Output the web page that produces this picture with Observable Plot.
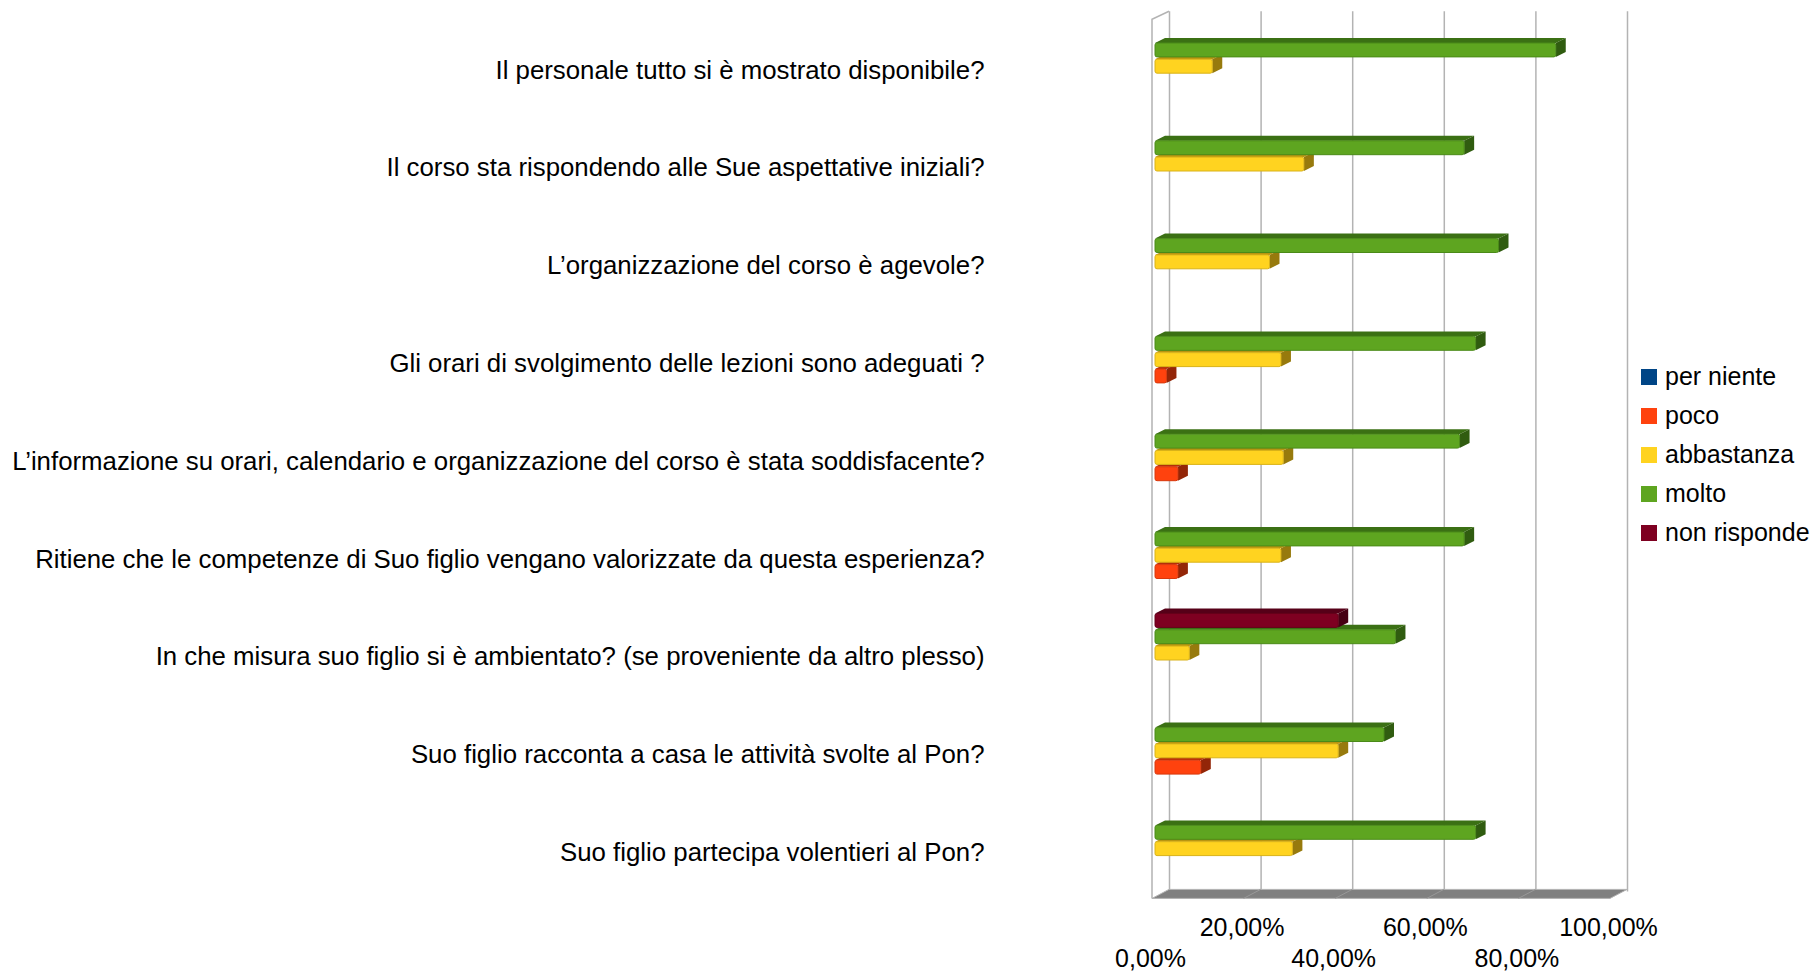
<!DOCTYPE html>
<html><head><meta charset="utf-8">
<script src="https://cdn.jsdelivr.net/npm/d3@7"></script>
<script src="https://cdn.jsdelivr.net/npm/@observablehq/plot@0.6"></script>
<style>
body{margin:0;background:#fff;font-family:"Liberation Sans",Arial,sans-serif;}
#wrap{position:relative;width:1814px;height:979px;overflow:hidden;}
#legend{position:absolute;left:1641px;top:357px;}
.item{display:flex;align-items:center;height:39px;font-size:25px;color:#000;white-space:nowrap;}
.sw{width:16px;height:16px;margin-right:8px;flex:none;}
</style></head><body>
<div id="wrap"><div id="chart"></div><div id="legend"></div></div>
<script>
// ---- data ----
const questions = [
  "Il personale tutto si è mostrato disponibile?",
  "Il corso sta rispondendo alle Sue aspettative iniziali?",
  "L\u2019organizzazione del corso è agevole?",
  "Gli orari di svolgimento delle lezioni sono adeguati ?",
  "L\u2019informazione su orari, calendario e organizzazione del corso è stata soddisfacente?",
  "Ritiene che le competenze di Suo figlio vengano valorizzate da questa esperienza?",
  "In che misura suo figlio si è ambientato? (se proveniente da altro plesso)",
  "Suo figlio racconta a casa le attività svolte al Pon?",
  "Suo figlio partecipa volentieri al Pon?"
];
const series = ["per niente", "poco", "abbastanza", "molto", "non risponde"];
const perNiente   = [0, 0, 0, 0, 0, 0, 0, 0, 0];
const poco        = [0, 0, 0, 2.5, 5, 5, 0, 10, 0];
const abbastanza  = [12.5, 32.5, 25, 27.5, 28, 27.5, 7.5, 40, 30];
const molto       = [87.5, 67.5, 75, 70, 66.5, 67.5, 52.5, 50, 70];
const nonRisponde = [0, 0, 0, 0, 0, 0, 40, 0, 0];
const ticks = [0, 20, 40, 60, 80, 100];
const tickLabels = ["0,00%", "20,00%", "40,00%", "60,00%", "80,00%", "100,00%"];

// ---- styles ----
const colors = ["#004586", "#ff420e", "#ffd320", "#5ea520", "#7e0021"];
const capColors = ["#002f5c", "#b32e0a", "#b89510", "#3b7014", "#560018"];
const sideColors = ["#00264a", "#9a2707", "#a3840c", "#2f5c0f", "#470014"];
const edgeColors = ["#003a70", "#d8380c", "#d9b218", "#4a8a18", "#650019"];

const values = [perNiente, poco, abbastanza, molto, nonRisponde];
const rows = [];
questions.forEach((q, i) => series.forEach((s, j) => {
  if (values[j][i] > 0) rows.push({q, s, key: q + "|" + s, v: values[j][i], color: colors[j], cap: capColors[j], side: sideColors[j], edge: edgeColors[j]});
}));
const slotOrder = ["gap", "non risponde", "molto", "abbastanza", "poco", "per niente"];
const domain = [];
questions.forEach(q => slotOrder.forEach(s => domain.push(q + "|" + s)));

const DX = 10, DY = 5;

function decor(index, scales, vals, dims) {
  const x = scales.x;
  const x0 = x(0), x1 = x(100);
  const top = dims.marginTop, bottom = dims.height - dims.marginBottom;
  const ox = 17, oy = 9;
  const backTop = top + 2, backBottom = bottom;
  const frontTop = backTop + 8, frontBottom = backBottom + oy;
  const g = d3.create("svg:g");
  g.append("path").attr("fill", "none").attr("stroke", "#b3b3b3").attr("stroke-width", 1.5)
    .attr("d", `M${x0},${frontBottom}L${x0},${frontTop}L${x0 + ox},${backTop}`);
  g.append("path").attr("fill", "#808080").attr("stroke", "#b3b3b3").attr("stroke-width", 1)
    .attr("d", `M${x0},${frontBottom}L${x1},${frontBottom}L${x1 + ox},${backBottom}L${x0 + ox},${backBottom}Z`);
  for (const t of ticks.slice(1, -1)) {
    g.append("line").attr("x1", x(t)).attr("y1", frontBottom).attr("x2", x(t) + ox).attr("y2", backBottom)
      .attr("stroke", "#999").attr("stroke-width", 1);
  }
  return g.node();
}

// draws the top and right faces of each bar as parallelograms
function boxFaces(index, scales, vals, dims, context, next) {
  const g = next(index, scales, vals, dims, context);
  const sel = d3.select(g);
  sel.selectAll("rect").each(function(i) {
    const r = d3.select(this);
    const x = +r.attr("x"), y = +r.attr("y"), w = +r.attr("width"), h = +r.attr("height");
    const d = rows[index[0] !== undefined ? 0 : 0];
    const fillTop = r.attr("fill");
    const row = this.__row;
    const parent = this.parentNode;
    const top = document.createElementNS("http://www.w3.org/2000/svg", "path");
    top.setAttribute("d", `M${x},${y}L${x + DX},${y - DY}L${x + w + DX},${y - DY}L${x + w},${y}Z`);
    top.setAttribute("fill", fillTop);
    const side = document.createElementNS("http://www.w3.org/2000/svg", "path");
    side.setAttribute("d", `M${x + w},${y}L${x + w + DX},${y - DY}L${x + w + DX},${y + h - DY}L${x + w},${y + h}Z`);
    side.setAttribute("fill", fillTop);
    side.setAttribute("style", "filter:brightness(0.82)");
    parent.insertBefore(top, this);
    parent.insertBefore(side, this);
    parent.removeChild(this);
  });
  return g;
}

const chart = Plot.plot({
  width: 1814,
  height: 979,
  marginLeft: 1152,
  marginRight: 204,
  marginTop: 9.2,
  marginBottom: 89.6,
  style: {fontFamily: "Liberation Sans, Arial, sans-serif", background: "#fff"},
  x: {domain: [0, 100], axis: null},
  y: {type: "band", domain, padding: 0, round: false, axis: null},
  color: {type: "identity"},
  marks: [
    Plot.ruleX(ticks, {x: d => d, dx: 17, dy: 2, stroke: "#b3b3b3", strokeWidth: 1.5}),
    decor,
    Plot.barX(rows, {x1: 0, x2: "v", y: "key", fill: "cap", dx: 3, insetTop: 1.2, insetBottom: 1.2, render: boxFaces}),
    Plot.barX(rows, {x1: 0, x2: "v", y: "key", fill: "color", stroke: "edge", strokeWidth: 1, dx: 3, insetTop: 1.2, insetBottom: 1.2, rx: 2}),
    Plot.text(questions, {y: d => d + "|abbastanza", text: d => d, frameAnchor: "left", textAnchor: "end", dx: -168, dy: 3.5, fontSize: 25.8, fill: "#000"}),
    Plot.text(ticks.filter((d, i) => i % 2 === 1), {x: d => d, text: d => tickLabels[ticks.indexOf(d)], frameAnchor: "bottom", dy: 46, dx: -2, fontSize: 25, fill: "#000"}),
    Plot.text(ticks.filter((d, i) => i % 2 === 0), {x: d => d, text: d => tickLabels[ticks.indexOf(d)], frameAnchor: "bottom", dy: 77, dx: -2, fontSize: 25, fill: "#000"})
  ]
});
document.getElementById("chart").appendChild(chart);

const legend = document.getElementById("legend");
series.forEach((s, j) => {
  const it = document.createElement("div");
  it.className = "item";
  const sw = document.createElement("span");
  sw.className = "sw";
  sw.style.background = colors[j];
  it.appendChild(sw);
  it.appendChild(document.createTextNode(s));
  legend.appendChild(it);
});
</script>
</body></html>
